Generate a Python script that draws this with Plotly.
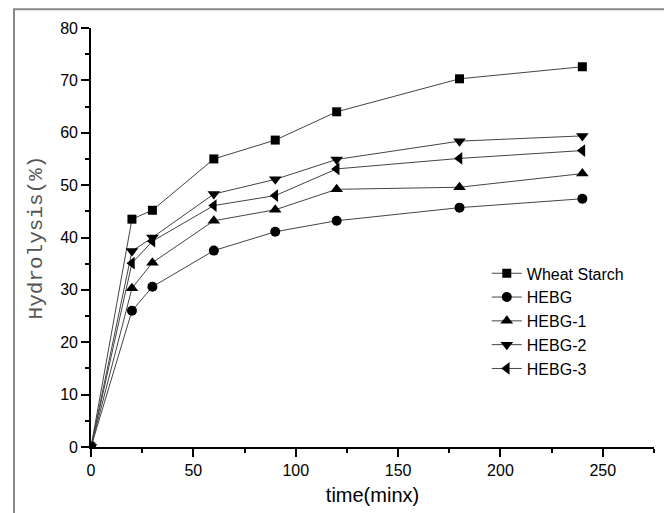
import plotly.graph_objects as go

time_min = [0, 20, 30, 60, 90, 120, 180, 240]
wheat_starch = [0, 43.5, 45.2, 55.0, 58.6, 64.0, 70.3, 72.6]
hebg = [0, 26.0, 30.6, 37.5, 41.1, 43.2, 45.7, 47.4]
hebg_1 = [0, 30.3, 35.2, 43.2, 45.3, 49.2, 49.6, 52.2]
hebg_2 = [0, 37.4, 40.0, 48.3, 51.1, 54.9, 58.4, 59.4]
hebg_3 = [0, 35.1, 39.3, 46.1, 48.0, 53.1, 55.1, 56.6]

series_names = ["Wheat Starch", "HEBG", "HEBG-1", "HEBG-2", "HEBG-3"]
series_values = [wheat_starch, hebg, hebg_1, hebg_2, hebg_3]
symbols = ["square", "circle", "triangle-up", "triangle-down", "triangle-left"]
sizes = [9, 10, 11, 11, 11]

fig = go.Figure()
for name, vals, sym, sz in zip(series_names, series_values, symbols, sizes):
    fig.add_trace(go.Scatter(
        x=time_min, y=vals, name=name, mode="lines+markers",
        line=dict(color="#444444", width=1),
        marker=dict(symbol=sym, size=sz, color="black"),
    ))

axis_common = dict(
    showgrid=False, zeroline=False, showline=True, linecolor="black", linewidth=1.6,
    ticks="outside", ticklen=8, tickwidth=1.6, tickcolor="black", automargin=False,
    tickfont=dict(family="Liberation Sans, Arial", size=16, color="black"),
)

fig.update_layout(
    width=664, height=505,
    margin=dict(l=83, r=18, t=20, b=66),
    paper_bgcolor="white", plot_bgcolor="white",
    showlegend=True,
    legend=dict(
        x=0.703, y=0.455, xanchor="left", yanchor="top",
        font=dict(family="Liberation Sans, Arial", size=16, color="black"),
        bgcolor="rgba(0,0,0,0)", tracegroupgap=0,
    ),
    xaxis=dict(
        range=[0, 275], tickvals=[0, 50, 100, 150, 200, 250],
        minor=dict(tickvals=[25, 75, 125, 175, 225, 275], ticklen=4, tickwidth=1.6,
                   tickcolor="black", ticks="outside"),
        title=dict(text="time(minx)", font=dict(family="Liberation Sans, Arial", size=20, color="black"),
                   standoff=10),
        **axis_common,
    ),
    yaxis=dict(
        range=[0, 80], tickvals=[0, 10, 20, 30, 40, 50, 60, 70, 80],
        minor=dict(tickvals=[5, 15, 25, 35, 45, 55, 65, 75], ticklen=4, tickwidth=1.6,
                   tickcolor="black", ticks="outside"),
        title=dict(text="Hydrolysis(%)", font=dict(family="Liberation Mono", size=21, color="#555555"),
                   standoff=12),
        **axis_common,
    ),
)

fig.add_shape(
    type="rect", xref="paper", yref="paper",
    x0=-0.1368, x1=1.0231, y0=-0.35, y1=1.045,
    line=dict(color="#888888", width=2), fillcolor="rgba(0,0,0,0)", layer="above",
)

fig.write_html("out.html")
